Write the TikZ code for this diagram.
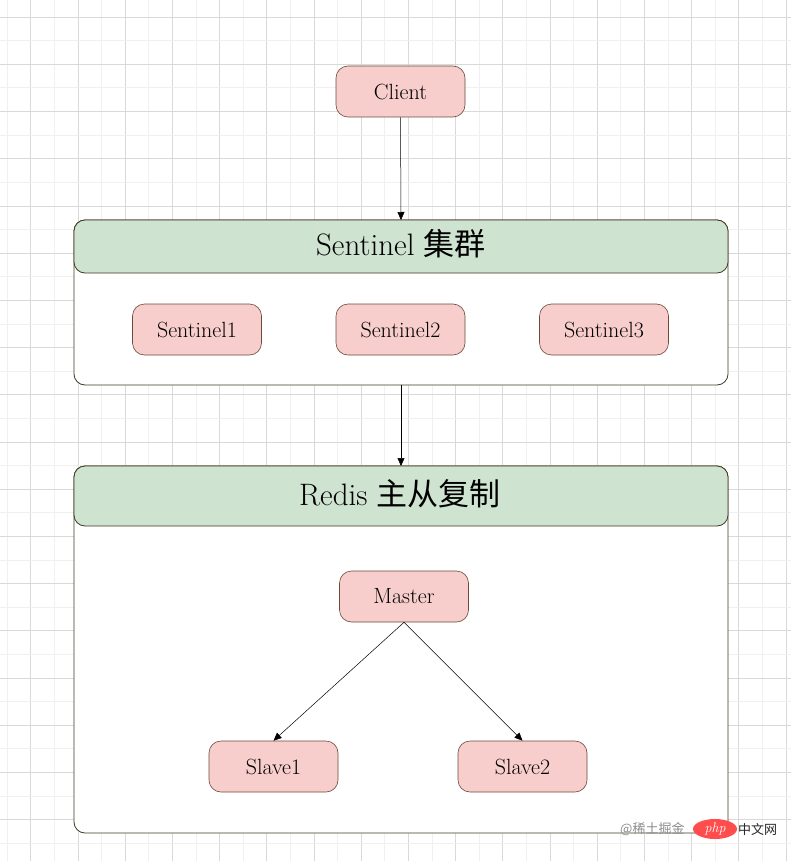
\documentclass[tikz,border=0pt]{standalone}
\usepackage{fontspec}
\newfontfamily\cjk{Noto Sans CJK SC}
\usetikzlibrary{arrows.meta,shapes.geometric}
\definecolor{gridlight}{HTML}{F0F0F0}
\definecolor{griddark}{HTML}{D9D9D9}
\definecolor{pinkfill}{HTML}{F8CECC}
\definecolor{pinkdraw}{HTML}{6B4A3A}
\definecolor{greenfill}{HTML}{CFE3D1}
\definecolor{boxdraw}{HTML}{3F3A22}
\tikzset{
  x=1pt, y=-1pt,
  pnode/.style={draw=pinkdraw, fill=pinkfill, rounded corners=12pt, minimum width=129pt, minimum height=51pt, inner sep=0pt, font=\fontsize{22}{25}\selectfont, line width=0.6pt},
  container/.style={draw=boxdraw, fill=white, rounded corners=11pt, line width=0.8pt},
  header/.style={draw=boxdraw, fill=greenfill, rounded corners=11pt, line width=0.8pt},
  htext/.style={font=\fontsize{31}{34}\selectfont},
  conn/.style={draw=black, line width=0.5pt, -{Triangle[length=8pt,width=7pt]}},
}
\begin{document}
\begin{tikzpicture}
\useasboundingbox (0,0) rectangle (791,861);
\fill[white] (0,0) rectangle (791,861);
% grid
\foreach \i in {0,...,34} {
  \pgfmathsetmacro{\xx}{7+23.6*\i}
  \pgfmathtruncatemacro{\odd}{mod(\i,2)}
  \ifnum\odd=1 \draw[griddark, line width=0.6pt] (\xx,0) -- (\xx,861); \else \draw[gridlight, line width=0.6pt] (\xx,0) -- (\xx,861); \fi
}
\foreach \i in {0,...,37} {
  \pgfmathsetmacro{\yy}{-6.6+23.6*\i}
  \pgfmathtruncatemacro{\odd}{mod(\i,2)}
  \ifnum\odd=1 \draw[griddark, line width=0.6pt] (0,\yy) -- (791,\yy); \else \draw[gridlight, line width=0.6pt] (0,\yy) -- (791,\yy); \fi
}
% containers
\draw[container] (74,220) rectangle (728,385);
\draw[header] (74,220) rectangle (728,273);
\node[htext] (sh) at (401,244) {Sentinel {\cjk 集群}};
\draw[container] (74,466) rectangle (728,833);
\draw[header] (74,466) rectangle (728,526);
\node[htext] (rh) at (400,494) {Redis {\cjk 主从复制}};
\coordinate (stop) at (401,220);
\coordinate (sbot) at (401,385);
\coordinate (rtop) at (401,466);
% nodes
\node[pnode] (client) at (400.5,91.5) {Client};
\node[pnode] (s1) at (197,329.5) {Sentinel1};
\node[pnode] (s2) at (400.5,329.5) {Sentinel2};
\node[pnode] (s3) at (604,329.5) {Sentinel3};
\node[pnode] (master) at (404,596.5) {Master};
\node[pnode] (slave1) at (273.5,766.5) {Slave1};
\node[pnode] (slave2) at (522.5,766.5) {Slave2};
% connectors
\draw[conn] (client.south) -- (stop);
\draw[conn] (sbot) -- (rtop);
\draw[conn] (master.south) -- (slave1.north);
\draw[conn] (master.south) -- (slave2.north);
% watermark
\node[anchor=west, inner sep=0pt, text=black!45, font=\cjk\fontsize{13}{15}\selectfont] (wm) at (620,829) {@稀土掘金};
\node[fill=red!70!white, ellipse, inner sep=0pt, minimum width=44pt, minimum height=20pt, text=white, font=\itshape\fontsize{14}{15}\selectfont] (php) at (715,829) {php};
\node[anchor=west, inner sep=0pt, text=black!85, font=\cjk\fontsize{13}{15}\selectfont] (wm2) at (738,829) {中文网};
\end{tikzpicture}
\end{document}
